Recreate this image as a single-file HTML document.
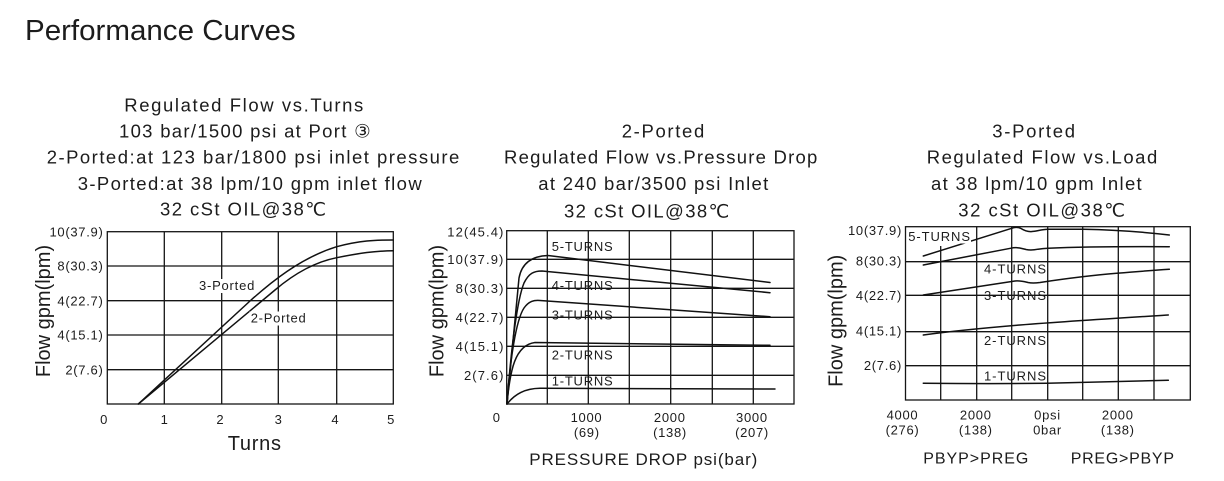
<!DOCTYPE html>
<html>
<head>
<meta charset="utf-8">
<style>
html,body{margin:0;padding:0;background:#fff;}
svg{display:block;}
text{font-family:"Liberation Sans","DejaVu Sans",Arial,sans-serif;fill:#1c1c1c;}
.t{font-size:18.5px;}
.tk{font-size:13px;}
.ax{font-size:20px;}
.g{stroke:#151515;stroke-width:1.3;fill:none;}
.c{stroke:#111;stroke-width:1.5;fill:none;stroke-linejoin:round;stroke-linecap:round;}
</style>
</head>
<body>
<svg width="1224" height="481" viewBox="0 0 1224 481" xmlns="http://www.w3.org/2000/svg">
<rect width="1224" height="481" fill="#fff"/>
<text x="25" y="40" style="font-size:29px" textLength="270.7" lengthAdjust="spacingAndGlyphs">Performance Curves</text>

<!-- Chart 1 titles -->
<text class="t" x="124.3" y="111.7" textLength="239" lengthAdjust="spacing">Regulated Flow vs.Turns</text>
<text class="t" x="119" y="137.7" textLength="251.7" lengthAdjust="spacing">103 bar/1500 psi at Port ③</text>
<text class="t" x="46.7" y="163.3" textLength="412.6" lengthAdjust="spacing">2-Ported:at 123 bar/1800 psi inlet pressure</text>
<text class="t" x="77.7" y="190" textLength="344" lengthAdjust="spacing">3-Ported:at 38 lpm/10 gpm inlet flow</text>
<text class="t" x="160" y="215.5" textLength="166" lengthAdjust="spacing">32 cSt OIL@38℃</text>

<!-- Chart 2 titles -->
<text class="t" x="621.7" y="137.3" textLength="82.6" lengthAdjust="spacing">2-Ported</text>
<text class="t" x="504" y="163.3" textLength="313.3" lengthAdjust="spacing">Regulated Flow vs.Pressure Drop</text>
<text class="t" x="538.3" y="190" textLength="230" lengthAdjust="spacing">at 240 bar/3500 psi Inlet</text>
<text class="t" x="564" y="217.3" textLength="165.3" lengthAdjust="spacing">32 cSt OIL@38℃</text>

<!-- Chart 3 titles -->
<text class="t" x="992.3" y="137.3" textLength="82.7" lengthAdjust="spacing">3-Ported</text>
<text class="t" x="926.7" y="163.3" textLength="230.6" lengthAdjust="spacing">Regulated Flow vs.Load</text>
<text class="t" x="931" y="190" textLength="210.7" lengthAdjust="spacing">at 38 lpm/10 gpm Inlet</text>
<text class="t" x="958.3" y="216.7" textLength="166.7" lengthAdjust="spacing">32 cSt OIL@38℃</text>

<!-- ================= Chart 1 ================= -->
<g class="g">
<rect x="107.3" y="231.7" width="286" height="172.3"/>
<line x1="164.3" y1="231.7" x2="164.3" y2="404"/>
<line x1="221.7" y1="231.7" x2="221.7" y2="404"/>
<line x1="278.3" y1="231.7" x2="278.3" y2="404"/>
<line x1="336.7" y1="231.7" x2="336.7" y2="404"/>
<line x1="107.3" y1="266" x2="393.3" y2="266"/>
<line x1="107.3" y1="300.7" x2="393.3" y2="300.7"/>
<line x1="107.3" y1="335" x2="393.3" y2="335"/>
<line x1="107.3" y1="369.7" x2="393.3" y2="369.7"/>
</g>
<g class="tk" text-anchor="end" style="letter-spacing:0.7px">
<text x="103.5" y="236.6">10(37.9)</text>
<text x="103.5" y="270.6">8(30.3)</text>
<text x="103.5" y="305.3">4(22.7)</text>
<text x="103.5" y="339.6">4(15.1)</text>
<text x="103.5" y="374.3">2(7.6)</text>
</g>
<g class="tk" text-anchor="middle">
<text x="103.7" y="424">0</text>
<text x="164.3" y="424">1</text>
<text x="220" y="424">2</text>
<text x="278.3" y="424">3</text>
<text x="335" y="424">4</text>
<text x="390.7" y="424">5</text>
</g>
<path class="c" d="M138.3,404 L250,301 C270,283 300,258 336.7,246.7 C360,240.5 375,240 393.3,240"/>
<path class="c" d="M138.3,404 L275,290 C295,273 315,262 336.7,257.7 C360,253 375,251 393.3,250.7"/>
<rect x="198" y="279" width="58" height="14" fill="#fff"/>
<rect x="249.5" y="311.5" width="58" height="14" fill="#fff"/>
<text class="tk" x="199" y="290" textLength="55.3" lengthAdjust="spacing">3-Ported</text>
<text class="tk" x="250.7" y="322.7" textLength="55" lengthAdjust="spacing">2-Ported</text>
<text class="ax" x="227.7" y="450" textLength="53.3" lengthAdjust="spacing">Turns</text>
<text class="ax" transform="translate(50,311) rotate(-90)" x="0" y="0" text-anchor="middle">Flow gpm(lpm)</text>

<!-- ================= Chart 2 ================= -->
<g class="g">
<rect x="506.7" y="230.7" width="287.3" height="173.3"/>
<line x1="547.3" y1="230.7" x2="547.3" y2="404"/>
<line x1="588.3" y1="230.7" x2="588.3" y2="404"/>
<line x1="629.3" y1="230.7" x2="629.3" y2="404"/>
<line x1="670.7" y1="230.7" x2="670.7" y2="404"/>
<line x1="712.3" y1="230.7" x2="712.3" y2="404"/>
<line x1="753.3" y1="230.7" x2="753.3" y2="404"/>
<line x1="506.7" y1="259.3" x2="794" y2="259.3"/>
<line x1="506.7" y1="288.3" x2="794" y2="288.3"/>
<line x1="506.7" y1="317.3" x2="794" y2="317.3"/>
<line x1="506.7" y1="346.3" x2="794" y2="346.3"/>
<line x1="506.7" y1="375.3" x2="794" y2="375.3"/>
</g>
<g class="tk" text-anchor="end" style="letter-spacing:1.1px">
<text x="504.5" y="236.4">12(45.4)</text>
<text x="504.5" y="264">10(37.9)</text>
<text x="504.5" y="293">8(30.3)</text>
<text x="504.5" y="322">4(22.7)</text>
<text x="504.5" y="351">4(15.1)</text>
<text x="504.5" y="380">2(7.6)</text>
</g>
<g class="tk" text-anchor="middle" style="letter-spacing:0.7px">
<text x="496.7" y="422">0</text>
<text x="586.5" y="422">1000</text>
<text x="586.8" y="437">(69)</text>
<text x="669.8" y="422">2000</text>
<text x="670" y="437">(138)</text>
<text x="751.9" y="422">3000</text>
<text x="752" y="437">(207)</text>
</g>
<path class="c" d="M507,404 L519,278 C522,262 533,256 548,255.5 L770,282.5"/>
<path class="c" d="M507,404 C511,350 517,300 524,283 C529,273 534,271 542,271 L770,292.7"/>
<path class="c" d="M507,404 C510,360 516,320 524,308 C529,301 534,300 540,300.5 L770,316.7"/>
<path class="c" d="M507,404 C510,370 515,345 535,342.5 L770,345.3"/>
<path class="c" d="M507,404 C515,394 525,388.5 540,388.3 L775,389"/>
<g class="tk">
<text x="551.7" y="251" textLength="61" lengthAdjust="spacing">5-TURNS</text>
<text x="551.7" y="290" textLength="61" lengthAdjust="spacing">4-TURNS</text>
<text x="551.7" y="319.7" textLength="61" lengthAdjust="spacing">3-TURNS</text>
<text x="551.7" y="359.5" textLength="61" lengthAdjust="spacing">2-TURNS</text>
<text x="551.7" y="385.7" textLength="61" lengthAdjust="spacing">1-TURNS</text>
</g>
<text x="529.3" y="465" style="font-size:17px" textLength="228" lengthAdjust="spacing">PRESSURE DROP psi(bar)</text>
<text class="ax" transform="translate(443.3,311) rotate(-90)" x="0" y="0" text-anchor="middle">Flow gpm(lpm)</text>

<!-- ================= Chart 3 ================= -->
<g class="g">
<rect x="905.5" y="226.7" width="284.8" height="173.3"/>
<line x1="940.7" y1="246" x2="940.7" y2="400"/>
<line x1="976.7" y1="226.7" x2="976.7" y2="400"/>
<line x1="1011.7" y1="226.7" x2="1011.7" y2="400"/>
<line x1="1047.7" y1="226.7" x2="1047.7" y2="400"/>
<line x1="1082.7" y1="226.7" x2="1082.7" y2="400"/>
<line x1="1118.3" y1="226.7" x2="1118.3" y2="400"/>
<line x1="1154" y1="226.7" x2="1154" y2="400"/>
<line x1="905.5" y1="261.7" x2="1190.3" y2="261.7"/>
<line x1="905.5" y1="295.3" x2="1190.3" y2="295.3"/>
<line x1="905.5" y1="331.7" x2="1190.3" y2="331.7"/>
<line x1="905.5" y1="365.7" x2="1190.3" y2="365.7"/>
</g>
<g class="tk" text-anchor="end" style="letter-spacing:0.7px">
<text x="902" y="235.2">10(37.9)</text>
<text x="902" y="265.6">8(30.3)</text>
<text x="902" y="300">4(22.7)</text>
<text x="902" y="335.7">4(15.1)</text>
<text x="902" y="370">2(7.6)</text>
</g>
<g class="tk" text-anchor="middle" style="letter-spacing:0.7px">
<text x="902.5" y="419.3">4000</text>
<text x="902.5" y="434.5">(276)</text>
<text x="975.8" y="419.3">2000</text>
<text x="975.8" y="434.5">(138)</text>
<text x="1047.5" y="419.3">0psi</text>
<text x="1047.5" y="434.5">0bar</text>
<text x="1117.8" y="419.3">2000</text>
<text x="1117.8" y="434.5">(138)</text>
</g>
<path class="c" d="M923.3,256 L1011.7,228.3 C1014,227.3 1018,226.8 1021,228.5 C1025,231 1028,232 1032,231.5 C1037,231 1042,229.5 1048.3,229.3 L1083.3,229.3 C1110,229.8 1140,231.5 1169.3,235"/>
<path class="c" d="M923.3,265 L1013,247.8 C1018,247 1022,248.5 1026,249.5 C1030,250.3 1034,250 1038,249.2 C1042,248.5 1045,248.3 1048,248.2 C1080,246.8 1130,246.5 1169.3,246.7"/>
<path class="c" d="M923.3,295 L1015,281 C1020,280.3 1024,281.5 1028,282.5 C1032,283.3 1036,283 1040,282.5 C1060,279.5 1090,275.5 1116.7,273.3 C1140,271.3 1155,270.2 1169.3,269.3"/>
<path class="c" d="M923.3,335 C960,330 990,327.5 1020,325 C1070,321 1120,318 1168.3,315"/>
<path class="c" d="M923.3,383.3 C980,383.8 1020,383.6 1046.7,383.3 C1090,382.5 1130,381.3 1168.3,380.3"/>
<rect x="907" y="229" width="64" height="14.5" fill="#fff"/>
<g class="tk">
<text x="908.3" y="240.8" textLength="61.7" lengthAdjust="spacing">5-TURNS</text>
<text x="984" y="273.3" textLength="62" lengthAdjust="spacing">4-TURNS</text>
<text x="984" y="300" textLength="62" lengthAdjust="spacing">3-TURNS</text>
<text x="984" y="345" textLength="62" lengthAdjust="spacing">2-TURNS</text>
<text x="984" y="380.7" textLength="62" lengthAdjust="spacing">1-TURNS</text>
</g>
<text x="923.3" y="463.3" style="font-size:16px" textLength="105" lengthAdjust="spacing">PBYP&gt;PREG</text>
<text x="1070.7" y="463.3" style="font-size:16px" textLength="103.3" lengthAdjust="spacing">PREG&gt;PBYP</text>
<text class="ax" transform="translate(842.6,320.8) rotate(-90)" x="0" y="0" text-anchor="middle">Flow gpm(lpm)</text>
</svg>
</body>
</html>
